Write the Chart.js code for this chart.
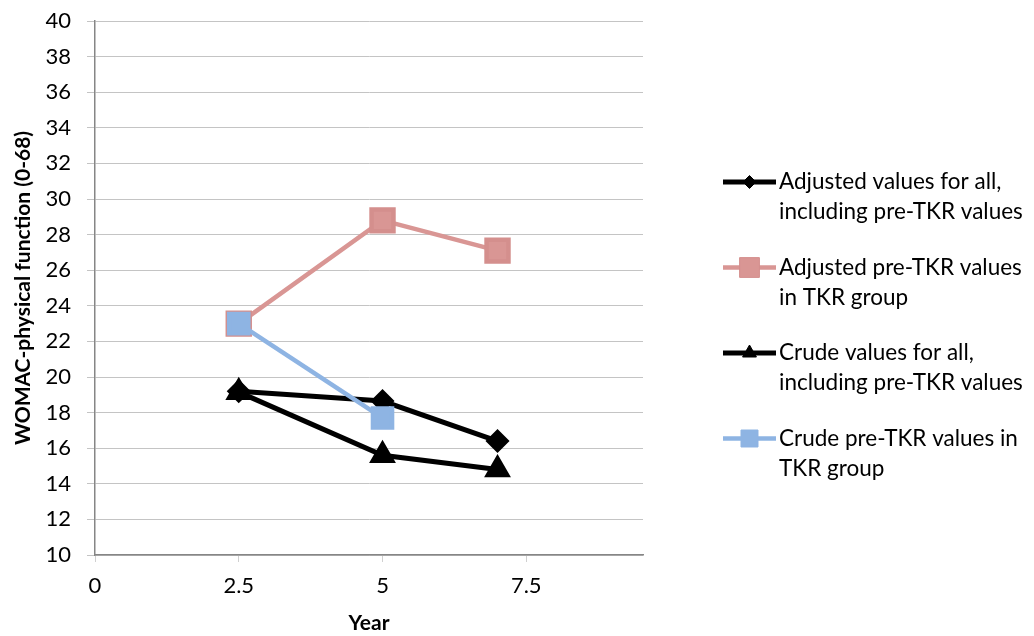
<!DOCTYPE html>
<html>
<head>
<meta charset="utf-8">
<script src="https://cdn.jsdelivr.net/npm/chart.js@4/dist/chart.umd.min.js"></script>
<style>
  body { margin: 0; background: #fff; }
  #wrap { width: 1034px; height: 636px; }
</style>
</head>
<body>
<div id="wrap"><canvas id="chart" width="1034" height="636"></canvas></div>
<script>
const years = [2.5, 5, 7];
const adjustedAll = [19.2, 18.65, 16.4];
const adjustedPreTkr = [23.0, 28.8, 27.1];
const crudeAll = [19.15, 15.6, 14.8];
const crudePreTkr = [23.0, 17.7];

const xTickValues = [0, 2.5, 5, 7.5];
const seriesNames = [
  ['Adjusted values for all,', 'including pre-TKR values'],
  ['Adjusted pre-TKR values', 'in TKR group'],
  ['Crude values for all,', 'including pre-TKR values'],
  ['Crude pre-TKR values in', 'TKR group']
];

const FONT = 'Lato, "Open Sans", sans-serif';
const pink = '#d99694';
const blue = '#8eb4e3';

const toPoints = (ys) => ys.map((v, i) => ({ x: years[i], y: v }));

// legend on the right, drawn by hand so labels can wrap on two lines
const sideLegend = {
  id: 'sideLegend',
  afterDraw(chart) {
    const ctx = chart.ctx;
    chart.data.datasets.forEach((ds, i) => {
      const y = 182 + i * 85.5;
      ctx.save();
      ctx.strokeStyle = ds.borderColor;
      ctx.lineWidth = ds.borderWidth;
      ctx.beginPath();
      ctx.moveTo(723, y);
      ctx.lineTo(776, y);
      ctx.stroke();
      ctx.fillStyle = ds.pointBackgroundColor;
      ctx.strokeStyle = ds.pointBorderColor;
      ctx.lineWidth = 1;
      Chart.helpers.drawPoint(ctx, { pointStyle: ds.pointStyle, radius: ds.legendRadius, borderWidth: 1 }, 749.5, y);
      ctx.fillStyle = '#000';
      ctx.font = '22.5px ' + FONT;
      ctx.textBaseline = 'middle';
      ctx.textAlign = 'left';
      seriesNames[i].forEach((line, k) => ctx.fillText(line, 779, y + k * 30));
      ctx.restore();
    });
  }
};

new Chart(document.getElementById('chart'), {
  type: 'line',
  data: {
    datasets: [
      {
        data: toPoints(adjustedAll),
        borderColor: '#000', borderWidth: 5,
        pointStyle: 'rectRot', pointRadius: 8.5,
        pointBackgroundColor: '#000', pointBorderColor: '#000',
        legendRadius: 6.5, order: 4
      },
      {
        data: toPoints(adjustedPreTkr),
        borderColor: pink, borderWidth: 4.5,
        pointStyle: 'rect', pointRadius: 15.5,
        pointBackgroundColor: pink, pointBorderColor: '#d48f8d',
        legendRadius: 14, order: 3
      },
      {
        data: toPoints(crudeAll),
        borderColor: '#000', borderWidth: 5,
        pointStyle: 'triangle', pointRadius: 10.5,
        pointBackgroundColor: '#000', pointBorderColor: '#000',
        legendRadius: 8, order: 2
      },
      {
        data: toPoints(crudePreTkr),
        borderColor: blue, borderWidth: 4.5,
        pointStyle: 'rect', pointRadius: 13.5,
        pointBackgroundColor: blue, pointBorderColor: blue,
        legendRadius: 12, order: 1
      }
    ]
  },
  options: {
    responsive: false,
    animation: false,
    layout: { padding: { top: 21, right: 391, left: 0, bottom: 0 } },
    plugins: { legend: { display: false }, tooltip: { enabled: false } },
    elements: { line: { tension: 0 } },
    scales: {
      x: {
        type: 'linear',
        min: 0,
        max: 9.53,
        afterBuildTicks: (scale) => { scale.ticks = xTickValues.map((v) => ({ value: v })); },
        afterFit: (scale) => { scale.height = 81; scale.paddingLeft = 0; scale.paddingRight = 0; },
        grid: { drawOnChartArea: false, drawTicks: true, tickLength: 7, color: '#d0d0d0' },
        border: { color: '#868686', width: 1.5 },
        ticks: { color: '#000', padding: 11, font: { family: FONT, size: 22 } },
        title: {
          display: true, text: 'Year', color: '#000',
          font: { family: FONT, size: 21, weight: 'bold' },
          padding: { top: 0, bottom: 0 }
        }
      },
      y: {
        min: 10,
        max: 40,
        afterFit: (scale) => { scale.width = 95; scale.paddingTop = 0; scale.paddingBottom = 0; },
        ticks: { stepSize: 2, color: '#000', padding: 16, font: { family: FONT, size: 22 } },
        grid: { color: '#c4c4c4', tickLength: 8 },
        border: { color: '#868686', width: 1.5 },
        title: {
          display: true, text: 'WOMAC-physical function (0-68)', color: '#000',
          font: { family: FONT, size: 21, weight: 'bold' },
          padding: { top: 11, bottom: 4 }
        }
      }
    }
  },
  plugins: [sideLegend]
});
</script>
</body>
</html>
